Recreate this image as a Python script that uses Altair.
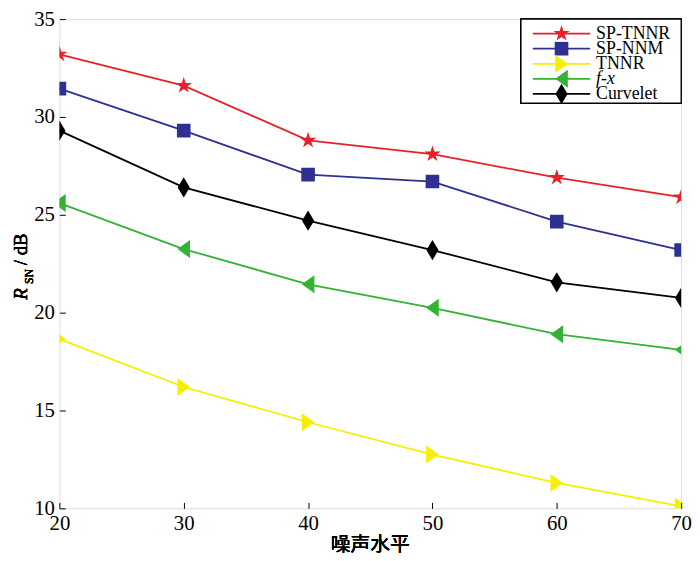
import altair as alt
import pandas as pd

noise = [20, 30, 40, 50, 60, 70]
series = ["SP-TNNR", "SP-NNM", "TNNR", "f-x", "Curvelet"]
sp_tnnr = [33.2, 31.6, 28.8, 28.1, 26.9, 25.9]
sp_nnm = [31.45, 29.3, 27.05, 26.7, 24.65, 23.2]
tnnr = [18.65, 16.2, 14.4, 12.75, 11.3, 10.1]
fx = [25.6, 23.25, 21.45, 20.25, 18.9, 18.1]
curvelet = [29.3, 26.4, 24.7, 23.2, 21.55, 20.75]
x_ticks = [20, 30, 40, 50, 60, 70]
y_ticks = [10, 15, 20, 25, 30, 35]

colors = ["#e8202a", "#2e3192", "#f5f000", "#33b233", "#000000"]
star = "M0,-1L0.223,-0.307L0.951,-0.309L0.361,0.117L0.588,0.809L0,0.38L-0.588,0.809L-0.361,0.117L-0.951,-0.309L-0.223,-0.307Z"
shapes = [star, "square", "M0.7,0L-0.7,-1L-0.7,1Z", "M-0.7,0L0.7,-1L0.7,1Z", "M-0.6,0L0,-1L0.6,0L0,1Z"]
sizes = [300, 190, 330, 330, 420]

values = [sp_tnnr, sp_nnm, tnnr, fx, curvelet]
rows = []
for s, vals in zip(series, values):
    for xv, yv in zip(noise, vals):
        rows.append({"series": s, "noise": xv, "snr": yv})
df = pd.DataFrame(rows)
leg = pd.DataFrame({"series": series})

FONT = "Liberation Serif"
W, H = 629, 495

color = alt.Color("series:N", scale=alt.Scale(domain=series, range=colors), legend=None)

xenc = alt.X("noise:Q", scale=alt.Scale(domain=[20, 70], nice=False, zero=False),
             axis=alt.Axis(values=x_ticks, title=None, offset=-6, tickSize=6, domain=False,
                           labelPadding=4, labelFlush=False, labelOverlap=False,
                           labelFont=FONT, labelFontSize=21, labelColor="black",
                           tickColor="black", grid=False))
yenc = alt.Y("snr:Q", scale=alt.Scale(domain=[10, 35], nice=False, zero=False),
             axis=alt.Axis(values=y_ticks, title=None, offset=-6, tickSize=6, domain=False,
                           labelPadding=5, labelFlush=False, labelOverlap=False,
                           labelFont=FONT, labelFontSize=21, labelColor="black",
                           tickColor="black", grid=False))

base = alt.Chart(df)
lines = base.mark_line(clip=True, strokeWidth=1.8).encode(x=xenc, y=yenc, color=color, detail="series:N")
point_layers = []
for s, shp, sz in zip(series, shapes, sizes):
    point_layers.append(
        base.transform_filter(alt.datum.series == s)
        .mark_point(clip=True, filled=True, opacity=1, shape=shp, size=sz)
        .encode(x="noise:Q", y="snr:Q", color=color)
    )
main = alt.layer(lines, *point_layers)

ly = alt.Y("series:N", sort=series, scale=alt.Scale(type="point", domain=series, range=[14.7, 75.7], padding=0), axis=None)
lb = alt.Chart(leg)
box = lb.mark_rect(fill="white", stroke="black", strokeWidth=1.2).encode(
    x=alt.value(467), x2=alt.value(W), y=alt.value(0), y2=alt.value(85))
lrule = lb.mark_rule(strokeWidth=1.8).encode(x=alt.value(479), x2=alt.value(537), y=ly, color=color)
lpts = []
for s, shp, sz in zip(series, shapes, sizes):
    lpts.append(
        lb.transform_filter(alt.datum.series == s)
        .mark_point(filled=True, opacity=1, shape=shp, size=sz)
        .encode(x=alt.value(508), y=ly, color=color)
    )
ltxt = lb.mark_text(align="left", baseline="middle", font=FONT, fontSize=18, color="black").encode(
    x=alt.value(543), y=ly, text="series:N").transform_filter(alt.datum.series != "f-x")
ltxt2 = lb.mark_text(align="left", baseline="middle", font=FONT, fontSize=18, fontStyle="italic", color="black").encode(
    x=alt.value(543), y=ly, text="series:N").transform_filter(alt.datum.series == "f-x")
legend = alt.layer(box, lrule, *lpts, ltxt, ltxt2)

tb = alt.Chart(leg)
xt = tb.mark_text(text="噪声水平", font="Noto Sans CJK SC", fontSize=20, fontWeight="normal", baseline="middle", align="center", color="black").encode(
    x=alt.value(W / 2), y=alt.value(532))
yt1 = tb.mark_text(text="R", font=FONT, fontSize=19, fontStyle="italic", angle=270, align="left", baseline="alphabetic", color="black").encode(
    x=alt.value(-33), y=alt.value(284))
yt2 = tb.mark_text(text="SN", font=FONT, fontSize=12, angle=270, align="left", baseline="alphabetic", color="black").encode(
    x=alt.value(-27), y=alt.value(268))
yt3 = tb.mark_text(text="/ dB", font=FONT, fontSize=19, angle=270, align="left", baseline="alphabetic", color="black").encode(
    x=alt.value(-33), y=alt.value(249))

chart = alt.layer(main, legend, xt, yt1, yt2, yt3).resolve_scale(y="independent").properties(
    width=W, height=H,
    autosize=alt.AutoSizeParams(type="none"),
    padding={"left": 52, "top": 8, "right": 11, "bottom": 48},
).configure_view(stroke="#222222", strokeWidth=1.6).configure(background="white")

chart.save("out.html", embed_options={"renderer": "svg", "actions": False})
